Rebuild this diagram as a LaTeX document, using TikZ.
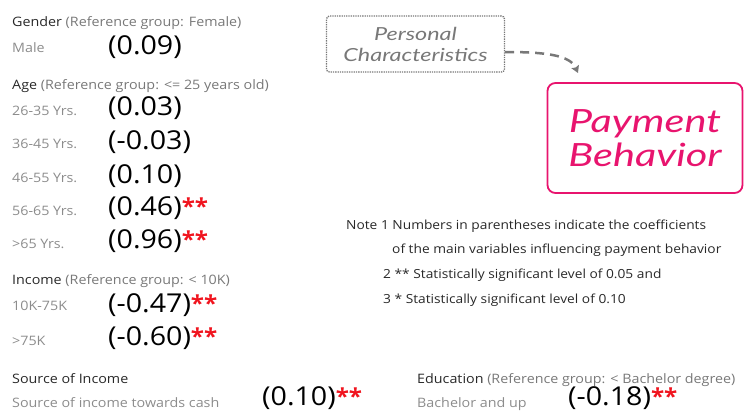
\documentclass[tikz,border=0pt]{standalone}
\usepackage{fontspec}
\setmainfont{Open Sans}[FakeStretch=1.1]
\newfontfamily\handfont{Lato}[FakeStretch=1.3]
\usetikzlibrary{positioning,arrows.meta}
\definecolor{pinkline}{RGB}{232,20,110}
\definecolor{labelgray}{RGB}{140,140,140}
\definecolor{headgray}{RGB}{120,120,120}
\definecolor{headblack}{RGB}{40,40,40}
\definecolor{starred}{RGB}{240,20,30}
\newcommand{\sig}{\textcolor{starred}{\raisebox{1pt}{\fontsize{22}{24}\selectfont\textbf{**}}}}

\begin{document}
\begin{tikzpicture}[x=1pt,y=-1pt,
  head node/.style={anchor=base west,inner sep=0pt,text=headblack,font=\fontsize{13}{15}\selectfont},
  level node/.style={anchor=base west,inner sep=0pt,text=labelgray,font=\fontsize{13}{15}\selectfont},
  coef node/.style={anchor=base west,inner sep=0pt,font=\fontsize{26}{30}\selectfont},
  note node/.style={anchor=base west,inner sep=0pt,text=headblack,font=\fontsize{12.5}{14}\selectfont}]

  \useasboundingbox (0,0) rectangle (744,410);

  % variables and coefficients
  \node[head node] (gender) at (12,26) {Gender \textcolor{headgray}{(Reference group: Female)}};
  \node[level node] (male) at (12,52) {Male};
  \node[coef node] (cmale) at (108,54) {(0.09)};

  \node[head node] (age) at (12,89) {Age \textcolor{headgray}{(Reference group: <= 25 years old)}};
  \node[level node] (a1) at (12,115) {26-35 Yrs.};
  \node[coef node] (ca1) at (108,115) {(0.03)};
  \node[level node] (a2) at (12,148) {36-45 Yrs.};
  \node[coef node] (ca2) at (108,149) {(-0.03)};
  \node[level node] (a3) at (12,182) {46-55 Yrs.};
  \node[coef node] (ca3) at (108,183) {(0.10)};
  \node[level node] (a4) at (12,215) {56-65 Yrs.};
  \node[coef node] (ca4) at (108,215) {(0.46)\sig};
  \node[level node] (a5) at (12,248) {>65 Yrs.};
  \node[coef node] (ca5) at (108,248) {(0.96)\sig};

  \node[head node] (income) at (12,284) {Income \textcolor{headgray}{(Reference group: < 10K)}};
  \node[level node] (i1) at (12,310) {10K-75K};
  \node[coef node] (ci1) at (108,312) {(-0.47)\sig};
  \node[level node] (i2) at (12,345) {>75K};
  \node[coef node] (ci2) at (108,345) {(-0.60)\sig};

  \node[head node] (source) at (12,383) {Source of Income};
  \node[level node] (s1) at (12,407) {Source of income towards cash};
  \node[coef node] (cs1) at (262,405) {(0.10)\sig};

  \node[head node] (edu) at (417,383) {Education \textcolor{headgray}{(Reference group: < Bachelor degree)}};
  \node[level node] (e1) at (417,407) {Bachelor and up};
  \node[coef node] (ce1) at (568,405) {(-0.18)\sig};

  % boxes
  \node[draw=headgray,densely dotted,line width=1.3pt,rounded corners=3pt,
    minimum width=178pt,minimum height=56pt,align=center,text=headgray,
    font=\handfont\itshape\fontsize{18}{21}\selectfont] (pc) at (415.5,44) {Personal\\Characteristics};
  \node[draw=pinkline,line width=1.8pt,rounded corners=8pt,
    minimum width=195pt,minimum height=110pt,align=center,text=pinkline,
    font=\handfont\itshape\fontsize{32}{34}\selectfont] (pb) at (645,138) {Payment\\Behavior};
  \coordinate (tip) at (578,73);
  \draw[headgray,line width=2.5pt,dash pattern=on 9pt off 6pt,
    -{Stealth[length=7pt,width=8pt,inset=1pt]}]
    ([yshift=-8pt]pc.east) .. controls (545,52) and (570,55) .. (tip);

  % note
  \node[note node] (n1) at (346,229) {Note 1 Numbers in parentheses indicate the coefficients};
  \node[note node] (n2) at (392,253) {of the main variables influencing payment behavior};
  \node[note node] (n3) at (383,278) {2 ** Statistically significant level of 0.05 and};
  \node[note node] (n4) at (383,303) {3 * Statistically significant level of 0.10};

\end{tikzpicture}
\end{document}
